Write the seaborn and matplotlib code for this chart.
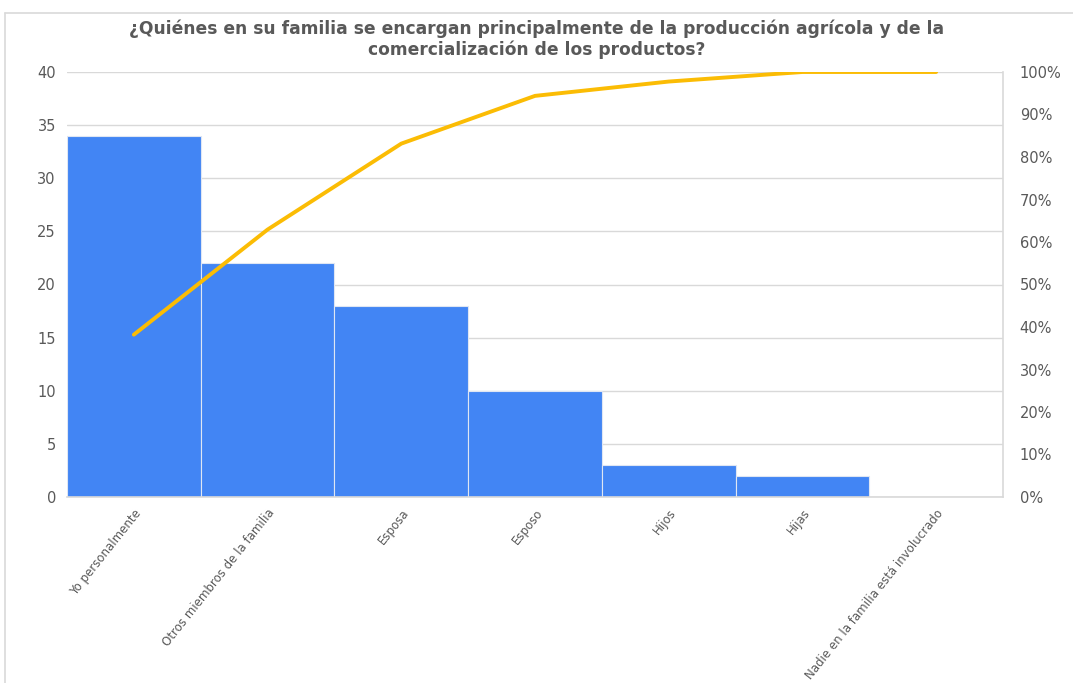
import numpy as np
import pandas as pd
import matplotlib
matplotlib.use("Agg")
import matplotlib.pyplot as plt
from matplotlib.ticker import PercentFormatter, MultipleLocator
from matplotlib.lines import Line2D
import seaborn as sns

categorias = [
    "Yo personalmente",
    "Otros miembros de la familia",
    "Esposa",
    "Esposo",
    "Hijos",
    "Hijas",
    "Nadie en la familia está involucrado",
]
frecuencias = [34, 22, 18, 10, 3, 2, 0]

titulo = ("¿Quiénes en su familia se encargan principalmente de la producción agrícola y de la\n"
          "comercialización de los productos?")

df = pd.DataFrame({"categoria": categorias, "frecuencia": frecuencias})
df["acumulado"] = df["frecuencia"].cumsum() / df["frecuencia"].sum()

sns.set_theme(style="white")
plt.rcParams["font.family"] = ["DejaVu Sans"]

gris_texto = "#595959"
gris_linea = "#d9d9d9"
azul = "#4285F4"
dorado = "#FBBC04"

fig = plt.figure(figsize=(10.73, 6.83), dpi=100)
ax = fig.add_axes([67 / 1073, 1 - 497 / 683, (1003 - 67) / 1073, (497 - 72) / 683])

sns.barplot(data=df, x="categoria", y="frecuencia", color=azul, saturation=1,
            width=1.0, edgecolor="#dfe6f3", linewidth=0.8, ax=ax, zorder=2)

ax.set_xlim(-0.5, len(categorias) - 0.5)
ax.set_ylim(0, 40)
ax.yaxis.set_major_locator(MultipleLocator(5))
ax.grid(axis="y", color=gris_linea, linewidth=1, zorder=0)
ax.set_axisbelow(True)
ax.set_xlabel("")
ax.set_ylabel("")
ax.tick_params(axis="y", length=0, labelsize=10.5, labelcolor=gris_texto, pad=8)
ax.tick_params(axis="x", length=0, labelsize=8.5, labelcolor=gris_texto, pad=7)
ax.set_xticks(range(len(categorias)))
ax.set_xticklabels(categorias, rotation=51.5, ha="right", rotation_mode="anchor")
for s in ["top", "left"]:
    ax.spines[s].set_visible(False)
for s in ["bottom", "right"]:
    ax.spines[s].set_color(gris_linea)
    ax.spines[s].set_linewidth(1.2)

ax2 = ax.twinx()
sns.lineplot(x=np.arange(len(categorias)), y=df["acumulado"].values, color=dorado,
             linewidth=2.8, ax=ax2, zorder=3)
ax2.set_ylim(0, 1)
ax2.yaxis.set_major_locator(MultipleLocator(0.1))
ax2.yaxis.set_major_formatter(PercentFormatter(1.0, decimals=0))
ax2.tick_params(axis="y", length=0, labelsize=10.5, labelcolor=gris_texto, pad=12)
ax2.set_ylabel("")
for s in ["top", "left", "bottom", "right"]:
    ax2.spines[s].set_visible(False)
ax2.grid(False)

fig.text(0.5, 1 - 39 / 683, titulo, ha="center", va="center", fontsize=12.3,
         fontweight="bold", color=gris_texto, linespacing=1.2)

# chart-area frame: top and left edges only
x0, y0 = 5 / 1073, 1 - 13 / 683
fig.add_artist(Line2D([x0, 1.0], [y0, y0], transform=fig.transFigure,
                      color=gris_linea, linewidth=1.2))
fig.add_artist(Line2D([x0, x0], [0.0, y0], transform=fig.transFigure,
                      color=gris_linea, linewidth=1.2))

fig.savefig("out.png", dpi=100)
